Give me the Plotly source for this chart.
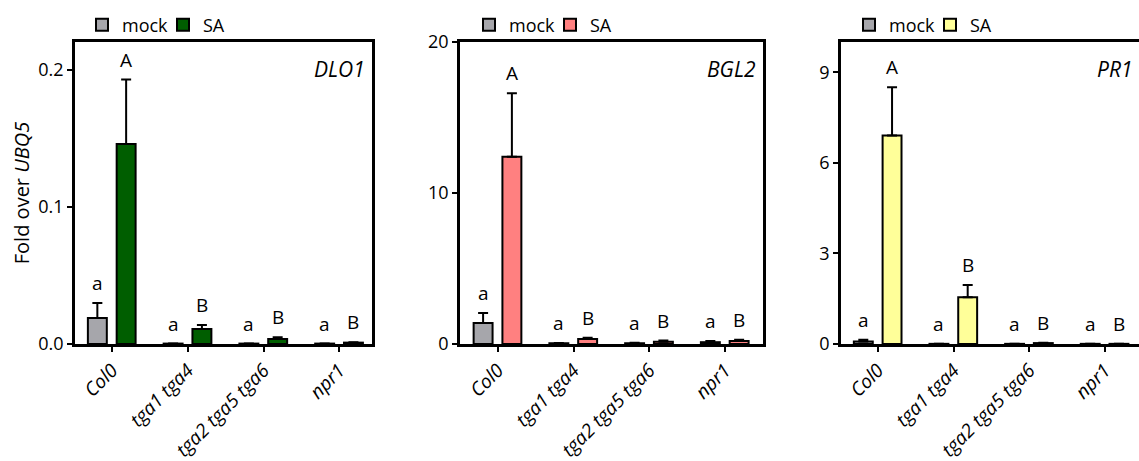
import plotly.graph_objects as go

genotypes = ["Col0", "tga1 tga4", "tga2 tga5 tga6", "npr1"]

genes = ["DLO1", "BGL2", "PR1"]

dlo1_mock = [0.019, 0.0003, 0.0003, 0.0003]
dlo1_mock_err = [0.011, 0.0, 0.0, 0.0]
dlo1_sa = [0.146, 0.011, 0.0037, 0.001]
dlo1_sa_err = [0.047, 0.0029, 0.0013, 0.0003]

bgl2_mock = [1.39, 0.05, 0.05, 0.12]
bgl2_mock_err = [0.66, 0.02, 0.03, 0.08]
bgl2_sa = [12.4, 0.33, 0.15, 0.2]
bgl2_sa_err = [4.2, 0.08, 0.08, 0.08]

pr1_mock = [0.08, 0.005, 0.005, 0.005]
pr1_mock_err = [0.06, 0.0, 0.0, 0.0]
pr1_sa = [6.9, 1.55, 0.03, 0.005]
pr1_sa_err = [1.6, 0.4, 0.01, 0.0]

mock_letters = ["a", "a", "a", "a"]
sa_letters = ["A", "B", "B", "B"]

y_ticks = [[0, 0.1, 0.2], [0, 10, 20], [0, 3, 6, 9]]
y_ranges = [[0, 0.2204], [0, 20], [0, 10]]

mock_color = "#a6a6ab"
sa_colors = ["#005e00", "#ff8080", "#ffff99"]

W, H = 1139, 461
FONT = "Open Sans"
FS = 18

panels = [
    (dlo1_mock, dlo1_mock_err, dlo1_sa, dlo1_sa_err),
    (bgl2_mock, bgl2_mock_err, bgl2_sa, bgl2_sa_err),
    (pr1_mock, pr1_mock_err, pr1_sa, pr1_sa_err),
]

x_domains = [[75 / W, 372 / W], [460 / W, 763 / W], [841 / W, 1.0]]
x_ranges = [[-0.49, 3.43], [-0.5, 3.5], [-0.49, 3.45]]
y_domain = [1 - 344 / H, 1 - 42 / H]
legend_x = [(102 - 20) / W, (489 - 20) / W, (869 - 20) / W]

BW = 0.25
OFF_MOCK = -0.32
OFF_SA = 0.06

fig = go.Figure()
annotations = []
for i, (m, me, s, se) in enumerate(panels):
    xa = "x" if i == 0 else f"x{i+1}"
    ya = "y" if i == 0 else f"y{i+1}"
    leg = "legend" if i == 0 else f"legend{i+1}"
    fig.add_trace(go.Bar(
        x=genotypes, y=m, name="mock", xaxis=xa, yaxis=ya, legend=leg,
        width=BW, offset=OFF_MOCK,
        marker=dict(color=mock_color, line=dict(color="black", width=2)),
        error_y=dict(type="data", array=me, arrayminus=[0] * len(me), symmetric=False,
                     color="black", thickness=2, width=5),
    ))
    fig.add_trace(go.Bar(
        x=genotypes, y=s, name="SA", xaxis=xa, yaxis=ya, legend=leg,
        width=BW, offset=OFF_SA,
        marker=dict(color=sa_colors[i], line=dict(color="black", width=2)),
        error_y=dict(type="data", array=se, arrayminus=[0] * len(se), symmetric=False,
                     color="black", thickness=2, width=5),
    ))
    for j in range(len(genotypes)):
        annotations.append(dict(
            x=j + OFF_MOCK + BW / 2, y=m[j] + me[j], xref=xa, yref=ya,
            text=mock_letters[j], showarrow=False, yanchor="middle", yshift=20,
            font=dict(family=FONT, size=19, color="black")))
        annotations.append(dict(
            x=j + OFF_SA + BW / 2, y=s[j] + se[j], xref=xa, yref=ya,
            text=sa_letters[j], showarrow=False, yanchor="middle", yshift=20,
            font=dict(family=FONT, size=19, color="black")))
    annotations.append(dict(
        x=1, y=1, xref=f"{xa} domain", yref=f"{ya} domain", text=f"<i>{genes[i]}</i>",
        showarrow=False, xanchor="right", yanchor="middle", xshift=-5, yshift=-27,
        font=dict(family=FONT, size=21, color="black")))

    axis_key = "xaxis" if i == 0 else f"xaxis{i+1}"
    yaxis_key = "yaxis" if i == 0 else f"yaxis{i+1}"
    fig.layout[axis_key] = dict(
        domain=x_domains[i], range=x_ranges[i], anchor=ya, type="category",
        showline=True, linecolor="black", linewidth=2.5, mirror=True,
        ticks="outside", ticklen=5, tickwidth=2, tickcolor="black",
        tickangle=-45, showgrid=False, zeroline=False,
        tickfont=dict(family=FONT, size=19, color="black", style="italic"),
    )
    fig.layout[yaxis_key] = dict(
        domain=y_domain, range=y_ranges[i], anchor=xa,
        showline=True, linecolor="black", linewidth=2.5, mirror=(i < 2),
        ticks="outside", ticklen=5, tickwidth=2, tickcolor="black",
        tickvals=y_ticks[i], ticktext=[(f"{v:.1f}" if i == 0 else str(v)) for v in y_ticks[i]],
        showgrid=False, zeroline=False,
        tickfont=dict(family=FONT, size=FS, color="black"),
    )
    fig.layout[leg] = dict(
        orientation="h", x=legend_x[i], xanchor="left", y=1 - 25 / H, yanchor="middle",
        font=dict(family=FONT, size=FS, color="black"), bgcolor="rgba(0,0,0,0)",
        entrywidth=36, itemclick=False, itemdoubleclick=False,
    )

fig.layout.yaxis.title = dict(text="Fold over <i>UBQ5</i>",
                              font=dict(family=FONT, size=20, color="black"), standoff=4)

fig.update_layout(
    width=W, height=H, margin=dict(l=0, r=0, t=0, b=0, autoexpand=False),
    paper_bgcolor="white", plot_bgcolor="white", barmode="overlay",
    annotations=annotations, font=dict(family=FONT, size=FS, color="black"),
)

fig.write_html("out.html")
